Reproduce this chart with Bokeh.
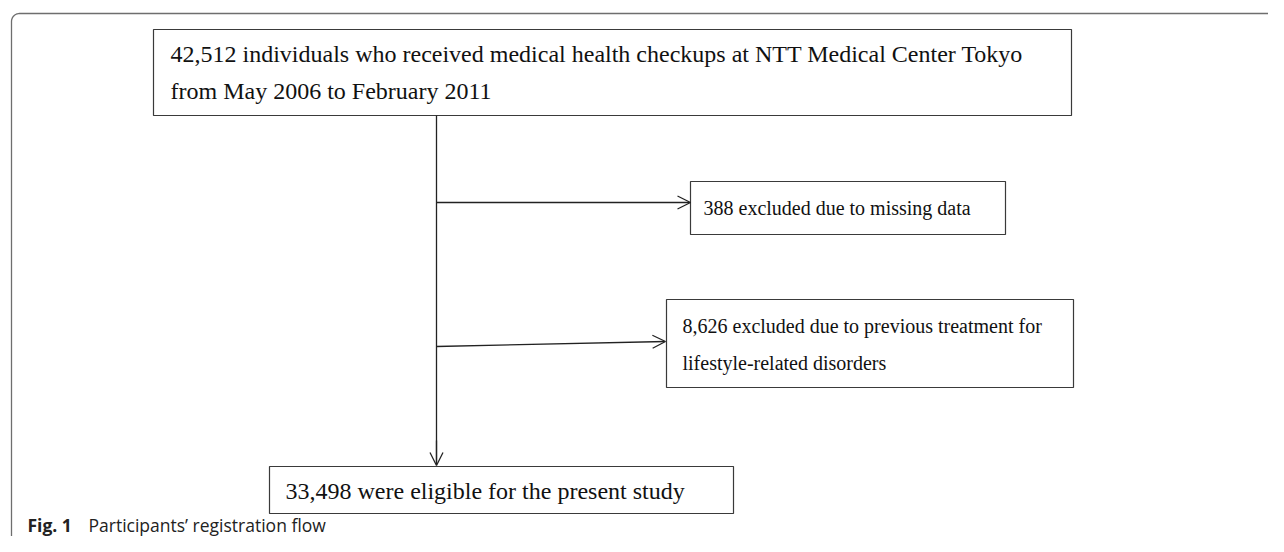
import numpy as np
from bokeh.plotting import figure
from bokeh.models import Range1d, Arrow, OpenHead
from bokeh.core.properties import value
from bokeh.embed import file_html
from bokeh.resources import INLINE

# ---- data (flow counts and texts) ----
total_n = "42,512"
missing_n = "388"
treated_n = "8,626"
eligible_n = "33,498"

box_texts = [
    [f"{total_n} individuals who received medical health checkups at NTT Medical Center Tokyo",
     "from May 2006 to February 2011"],
    [f"{missing_n} excluded due to missing data"],
    [f"{treated_n} excluded due to previous treatment for",
     "lifestyle-related disorders"],
    [f"{eligible_n} were eligible for the present study"],
]
caption_bold = "Fig. 1"
caption_text = "Participants\u2019 registration flow"

# ---- layout (pixel-like coordinates, y downward) ----
# boxes: left, right, top, bottom
boxes = [
    (153, 1071, 29, 115),
    (690, 1005, 181, 234),
    (666, 1073, 299, 387),
    (269, 733, 466, 513),
]
text_x = [170, 703, 682, 285]
text_base = [[63, 100], [215], [333, 370], [500]]   # desired baselines
text_px = [24, 20, 20, 24]
BASE_SHIFT = 0.38   # renderer places text lower than the baseline by ~0.38em

W, H = 1268, 536
p = figure(width=W, height=H, output_backend="svg", toolbar_location=None,
           x_range=Range1d(0, W), y_range=Range1d(H, 0),
           min_border=0)
p.axis.visible = False
p.grid.visible = False
p.outline_line_color = None
p.background_fill_color = "white"
p.border_fill_color = "white"

# outer rounded frame (open at right and bottom)
r = 8
ang = np.linspace(np.pi, 1.5 * np.pi, 12)
fx = [11] + list(11 + r + r * np.cos(ang)) + [1300]
fy = [600] + list(13 + r + r * np.sin(ang)) + [13]
p.line(fx, fy, line_color="#6e6e6e", line_width=1.3)

# boxes
bl = [b[0] for b in boxes]
br = [b[1] for b in boxes]
bt = [b[2] for b in boxes]
bb = [b[3] for b in boxes]
p.quad(left=bl, right=br, top=bt, bottom=bb, fill_color="white",
       line_color="#3a3a3a", line_width=1.2)

# texts
for i, lines in enumerate(box_texts):
    xs = [text_x[i]] * len(lines)
    ys = [b - BASE_SHIFT * text_px[i] for b in text_base[i][:len(lines)]]
    p.text(x=xs, y=ys, text=lines, text_font=value("Liberation Serif"),
           text_font_size=f"{text_px[i]}px", text_color="#111111",
           text_baseline="alphabetic", text_align="left")

# connectors
trunk_x = 436
ac = "#222222"
p.line([trunk_x, trunk_x], [115, 462], line_color=ac, line_width=1.3)
p.add_layout(Arrow(end=OpenHead(size=13, line_color=ac, line_width=1.3),
                   x_start=trunk_x, y_start=440, x_end=trunk_x, y_end=465,
                   line_color=ac, line_width=1.3))
p.add_layout(Arrow(end=OpenHead(size=13, line_color=ac, line_width=1.3),
                   x_start=trunk_x, y_start=202, x_end=690, y_end=202,
                   line_color=ac, line_width=1.3))
p.add_layout(Arrow(end=OpenHead(size=13, line_color=ac, line_width=1.3),
                   x_start=trunk_x, y_start=346, x_end=665, y_end=341,
                   line_color=ac, line_width=1.3))

# caption
cap_px = 17.5
cap_y = 531 - BASE_SHIFT * cap_px
p.text(x=[27], y=[cap_y], text=[caption_bold], text_font=value("Open Sans"),
       text_font_size=f"{cap_px}px", text_font_style="bold", text_color="#222222",
       text_baseline="alphabetic")
p.text(x=[88], y=[cap_y], text=[caption_text], text_font=value("Open Sans"),
       text_font_size=f"{cap_px}px", text_color="#222222",
       text_baseline="alphabetic")

open("out.html", "w").write(file_html(p, INLINE))
